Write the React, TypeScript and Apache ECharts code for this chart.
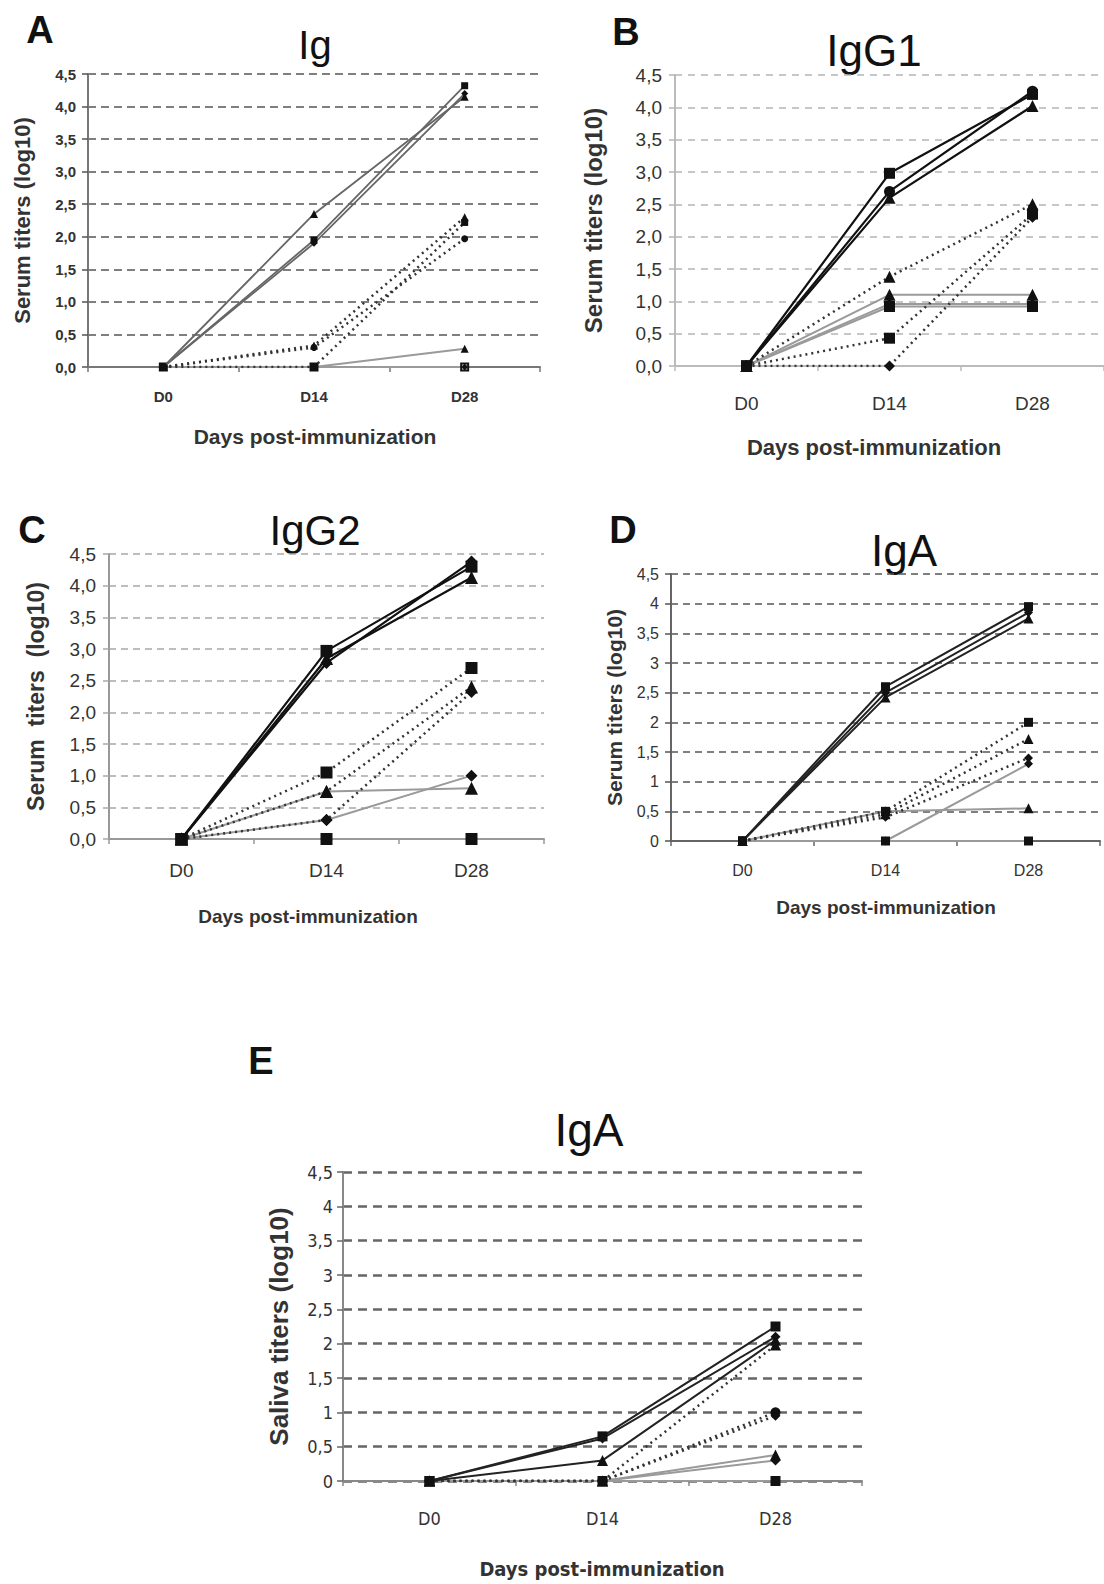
import React, { useEffect, useRef } from "react";
import * as echarts from "echarts";

const FONT = "'Liberation Sans', Arial, sans-serif";
const NARROW = "'Liberation Sans Narrow', 'DejaVu Sans Condensed', 'Liberation Sans', sans-serif";

// Categories
const days = ["D0", "D14", "D28"];

// Panel A — Ig (serum)
const igHigh = [[0, 2.35, 4.15], [0, 1.95, 4.32], [0, 1.9, 4.2]];
const igMid = [[0, 0.33, 2.3], [0, 0, 2.22], [0, 0.3, 1.97]];
const igLow = [[0, 0, 0.28], [0, 0, 0], [0, 0, 0]];

// Panel B — IgG1 (serum)
const igg1High = [[0, 2.98, 4.2], [0, 2.7, 4.25], [0, 2.6, 4.02]];
const igg1Mid = [[0, 1.38, 2.5], [0, 0.43, 2.35], [0, 0, 2.3]];
const igg1Low = [[0, 1.1, 1.1], [0, 0.92, 0.92], [0, 0.96, 0.96]];

// Panel C — IgG2 (serum)
const igg2High = [[0, 2.97, 4.3], [0, 2.78, 4.38], [0, 2.85, 4.13]];
const igg2Mid = [[0, 1.05, 2.7], [0, 0.75, 2.4], [0, 0.3, 2.32]];
const igg2Low = [[0, 0.75, 0.8], [0, 0.3, 1.0], [0, 0, 0]];

// Panel D — IgA (serum)
const igaSerumHigh = [[0, 2.6, 3.95], [0, 2.5, 3.85], [0, 2.42, 3.75]];
const igaSerumMid = [[0, 0.5, 2.0], [0, 0.45, 1.72], [0, 0.4, 1.4]];
const igaSerumLow = [[0, 0.5, 0.55], [0, 0, 1.3], [0, 0, 0]];

// Panel E — IgA (saliva)
const igaSalivaHigh = [[0, 0.65, 2.25], [0, 0.62, 2.1], [0, 0.3, 2.05]];
const igaSalivaMid = [[0, 0, 1.98], [0, 0, 1.0], [0, 0, 0.95]];
const igaSalivaLow = [[0, 0, 0.38], [0, 0, 0.3], [0, 0, 0]];

// Texts
const panelLetters = ["A", "B", "C", "D", "E"];
const panelTitles = ["Ig", "IgG1", "IgG2", "IgA", "IgA"];
const yTitles = [
  "Serum titers (log10)",
  "Serum titers (log10)",
  "Serum  titers  (log10)",
  "Serum titers (log10)",
  "Saliva titers (log10)",
];
const xTitle = "Days post-immunization";

const fmtDec = (v: number) => v.toFixed(1).replace(".", ",");
const fmtShort = (v: number) => (Number.isInteger(v) ? String(v) : v.toFixed(1).replace(".", ","));

const panels = [
  {
    high: igHigh, mid: igMid, low: igLow,
    highSym: ["triangle", "rect", "diamond"], midSym: ["triangle", "rect", "circle"], lowSym: ["triangle", "emptyRect", "diamond"],
    grid: { left: 88, top: 74, width: 452, height: 293 },
    fmt: fmtDec, labelFont: { fontSize: 15, fontWeight: "bold", fontFamily: FONT },
    yName: { fontSize: 22, fontWeight: "bold", fontFamily: FONT }, yGap: 55,
    xName: { fontSize: 21, fontWeight: "bold", fontFamily: FONT }, xPos: [315, 436],
    yMargin: 12, xMargin: 22,
    gridColor: "#555", gridWidth: 1.5, dash: [8, 5], axisColor: "#777",
    highColor: "#666", highWidth: 1.8, sym: 7,
    letter: [40, 30], title: [315, 45], titleSize: 40,
  },
  {
    high: igg1High, mid: igg1Mid, low: igg1Low,
    highSym: ["rect", "circle", "triangle"], midSym: ["triangle", "rect", "diamond"], lowSym: ["triangle", "rect", "diamond"],
    grid: { left: 675, top: 75, width: 429, height: 291 },
    fmt: fmtDec, labelFont: { fontSize: 19, fontWeight: "normal", fontFamily: FONT },
    yName: { fontSize: 24, fontWeight: "bold", fontFamily: FONT }, yGap: 70,
    xName: { fontSize: 22, fontWeight: "bold", fontFamily: FONT }, xPos: [874, 447],
    yMargin: 13, xMargin: 28,
    gridColor: "#b5b5b5", gridWidth: 1.5, dash: [7, 6], axisColor: "#bbb",
    highColor: "#111", highWidth: 2.2, sym: 11,
    letter: [626, 32], title: [874, 50], titleSize: 44,
  },
  {
    high: igg2High, mid: igg2Mid, low: igg2Low,
    highSym: ["rect", "diamond", "triangle"], midSym: ["rect", "triangle", "diamond"], lowSym: ["triangle", "diamond", "rect"],
    grid: { left: 109, top: 554, width: 435, height: 285 },
    fmt: fmtDec, labelFont: { fontSize: 19, fontWeight: "normal", fontFamily: FONT },
    yName: { fontSize: 23, fontWeight: "bold", fontFamily: FONT }, yGap: 62,
    xName: { fontSize: 19, fontWeight: "bold", fontFamily: FONT }, xPos: [308, 916],
    yMargin: 13, xMargin: 22,
    gridColor: "#a8a8a8", gridWidth: 1.5, dash: [7, 5], axisColor: "#999",
    highColor: "#111", highWidth: 2.2, sym: 12,
    letter: [32, 530], title: [315, 530], titleSize: 42,
  },
  {
    high: igaSerumHigh, mid: igaSerumMid, low: igaSerumLow,
    highSym: ["rect", "diamond", "triangle"], midSym: ["rect", "triangle", "diamond"], lowSym: ["triangle", "diamond", "rect"],
    grid: { left: 671, top: 574, width: 429, height: 267 },
    fmt: fmtShort, labelFont: { fontSize: 16, fontWeight: "normal", fontFamily: FONT },
    yName: { fontSize: 21, fontWeight: "bold", fontFamily: FONT }, yGap: 46,
    xName: { fontSize: 19, fontWeight: "bold", fontFamily: FONT }, xPos: [886, 907],
    yMargin: 12, xMargin: 21,
    gridColor: "#555", gridWidth: 1.5, dash: [7, 5], axisColor: "#666",
    highColor: "#222", highWidth: 2, sym: 9,
    letter: [623, 530], title: [904, 550], titleSize: 44,
  },
  {
    high: igaSalivaHigh, mid: igaSalivaMid, low: igaSalivaLow,
    highSym: ["rect", "diamond", "triangle"], midSym: ["triangle", "circle", "diamond"], lowSym: ["triangle", "diamond", "rect"],
    grid: { left: 343, top: 1172, width: 519, height: 309 },
    fmt: fmtShort, labelFont: { fontSize: 18, fontWeight: "normal", fontFamily: NARROW },
    yName: { fontSize: 26, fontWeight: "bold", fontFamily: FONT }, yGap: 51,
    xName: { fontSize: 20, fontWeight: "bold", fontFamily: NARROW }, xPos: [602, 1569],
    yMargin: 10, xMargin: 28,
    gridColor: "#666", gridWidth: 2.5, dash: [9, 6], axisColor: "#888",
    highColor: "#222", highWidth: 2, sym: 10,
    letter: [261, 1061], title: [589, 1130], titleSize: 46,
  },
];

export default function App() {
  const ref = useRef<HTMLDivElement>(null);

  useEffect(() => {
    document.body.style.margin = "0";
    if (!ref.current) return;
    const chart = echarts.init(ref.current, undefined, { renderer: "svg" });

    const grids: any[] = [];
    const xAxes: any[] = [];
    const yAxes: any[] = [];
    const series: any[] = [];
    const graphics: any[] = [];

    panels.forEach((p, i) => {
      grids.push({ ...p.grid, containLabel: false });
      xAxes.push({
        type: "category",
        gridIndex: i,
        data: days,
        boundaryGap: true,
        axisLine: { show: true, lineStyle: { color: p.axisColor, width: 2 } },
        axisTick: { show: true, alignWithLabel: false, length: 5, lineStyle: { color: p.axisColor, width: 1.5 } },
        axisLabel: { ...p.labelFont, color: "#333", margin: p.xMargin },
        splitLine: { show: false },
      });
      yAxes.push({
        type: "value",
        gridIndex: i,
        min: 0,
        max: 4.5,
        interval: 0.5,
        axisLine: { show: true, lineStyle: { color: p.axisColor, width: 2 } },
        axisTick: { show: true, length: 6, lineStyle: { color: p.gridColor, width: 1.5 } },
        axisLabel: { ...p.labelFont, color: "#333", margin: p.yMargin, formatter: (v: number) => p.fmt(v) },
        splitLine: { show: true, lineStyle: { color: p.gridColor, width: p.gridWidth, type: p.dash } },
        name: yTitles[i],
        nameLocation: "middle",
        nameRotate: 90,
        nameGap: p.yGap,
        nameTextStyle: { ...p.yName, color: "#333" },
      });

      const addGroup = (rows: number[][], syms: string[], color: string, width: number, type: any, z: number) => {
        rows.forEach((row, k) => {
          series.push({
            type: "line",
            xAxisIndex: i,
            yAxisIndex: i,
            data: row,
            symbol: syms[k],
            symbolSize: syms[k] === "triangle" ? p.sym + 1 : p.sym,
            showSymbol: true,
            lineStyle: { color, width, type },
            itemStyle: { color: "#111", borderColor: "#111", borderWidth: syms[k] === "emptyRect" ? 1.5 : 0 },
            z,
            silent: true,
          });
        });
      };
      addGroup(p.low, p.lowSym, "#9a9a9a", 2, "solid", 2);
      addGroup(p.mid, p.midSym, "#333", 2.5, [2, 4], 3);
      addGroup(p.high, p.highSym, p.highColor, p.highWidth, "solid", 4);

      graphics.push({
        type: "text",
        x: p.letter[0],
        y: p.letter[1],
        style: { text: panelLetters[i], fontSize: 38, fontWeight: "bold", fontFamily: FONT, fill: "#111", align: "center", verticalAlign: "middle" },
      });
      graphics.push({
        type: "text",
        x: p.title[0],
        y: p.title[1],
        style: { text: panelTitles[i], fontSize: p.titleSize, fontWeight: "normal", fontFamily: FONT, fill: "#111", align: "center", verticalAlign: "middle" },
      });
      graphics.push({
        type: "text",
        x: p.xPos[0],
        y: p.xPos[1],
        style: { text: xTitle, ...p.xName, fill: "#333", align: "center", verticalAlign: "middle" },
      });
    });

    chart.setOption({
      animation: false,
      backgroundColor: "#ffffff",
      grid: grids,
      xAxis: xAxes,
      yAxis: yAxes,
      series,
      graphic: graphics,
    });

    return () => chart.dispose();
  }, []);

  return <div ref={ref} style={{ width: 1104, height: 1584 }} />;
}
